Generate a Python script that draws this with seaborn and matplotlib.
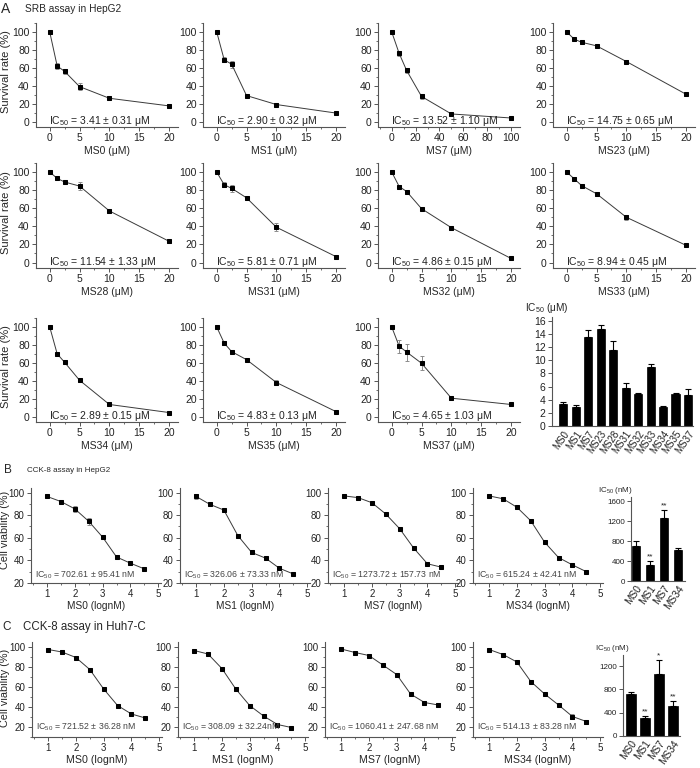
import matplotlib.pyplot as plt
from matplotlib.ticker import MultipleLocator
import seaborn as sns

# ---------------- A: SRB assay in HepG2 (survival rate, %) ----------------
conc_um = [0, 1.25, 2.5, 5, 10, 20]
conc_ms7_um = [0, 6.25, 12.5, 25, 50, 100]

ms0_srb = [100, 62, 56, 39, 26, 17.5]
ms0_srb_err = [0, 3, 3, 4, 1, 1]
ms1_srb = [100, 69, 64, 29, 19, 9.5]
ms1_srb_err = [0, 3, 4, 1, 1.5, 0.5]
ms7_srb = [100, 76, 57, 28, 8.5, 4]
ms7_srb_err = [0, 2.5, 2.5, 3, 1, 0.5]
ms23_srb = [100, 92, 88.5, 84.5, 67, 30.5]
ms23_srb_err = [0, 1, 1, 1, 1.5, 1]
ms28_srb = [100, 93, 89, 84.5, 57, 23.5]
ms28_srb_err = [0, 1, 1, 4.5, 2, 1.5]
ms31_srb = [100, 86, 82, 71.5, 39, 6.5]
ms31_srb_err = [0, 3, 3.5, 2.5, 4.5, 0.5]
ms32_srb = [100, 84, 78.5, 59.5, 38.5, 4.5]
ms32_srb_err = [0, 2, 1, 1, 1, 0.5]
ms33_srb = [100, 92.5, 85, 76, 50, 19]
ms33_srb_err = [0, 2.5, 1, 2.5, 2.5, 1]
ms34_srb = [100, 70, 60.5, 40.5, 13.5, 4.5]
ms34_srb_err = [0, 1, 2, 1.5, 1, 0.5]
ms35_srb = [100, 82, 72.5, 63.5, 38, 5.5]
ms35_srb_err = [0, 2, 1, 1, 2.5, 0.5]
ms37_srb = [100, 78.5, 72, 59.5, 20.5, 13.5]
ms37_srb_err = [0, 7.5, 9.5, 8, 1, 1]

srb_names = ["MS0", "MS1", "MS7", "MS23", "MS28", "MS31", "MS32", "MS33", "MS34", "MS35", "MS37"]
srb_ic50 = [3.41, 2.90, 13.52, 14.75, 11.54, 5.81, 4.86, 8.94, 2.89, 4.83, 4.65]
srb_ic50_err = [0.31, 0.32, 1.10, 0.65, 1.33, 0.71, 0.15, 0.45, 0.15, 0.13, 1.03]

# ---------------- B / C: CCK-8 assay (cell viability, %) ----------------
log_nm = [1, 1.5, 2, 2.5, 3, 3.5, 4, 4.5]
cck_names = ["MS0", "MS1", "MS7", "MS34"]

ms0_hepg2 = [96.5, 92, 85.5, 74.5, 60.5, 43, 37.5, 32.5]
ms0_hepg2_err = [0.5, 0.8, 2.5, 3, 0.8, 0.5, 0.5, 0.5]
ms1_hepg2 = [96.5, 89.5, 84.5, 62, 47, 42, 33, 28]
ms1_hepg2_err = [2, 0.8, 1, 1.5, 1.5, 0.8, 0.5, 0.8]
ms7_hepg2 = [97, 95.5, 91, 81, 68, 51, 37, 34]
ms7_hepg2_err = [0.5, 0.5, 0.5, 0.8, 0.8, 0.8, 0.5, 0.5]
ms34_hepg2 = [97, 94.5, 87, 75, 56, 42.5, 36, 30]
ms34_hepg2_err = [0.5, 0.5, 0.8, 0.8, 0.8, 0.8, 0.8, 0.5]
hepg2_ic50 = [702.61, 326.06, 1273.72, 615.24]
hepg2_ic50_err = [95.41, 73.33, 157.73, 42.41]
hepg2_stars = ["", "**", "**", ""]

ms0_huh7 = [97.5, 95, 89.5, 77.5, 58, 41.5, 33, 29]
ms0_huh7_err = [0.5, 0.5, 0.8, 0.8, 0.8, 0.8, 0.5, 0.5]
ms1_huh7 = [96.5, 93, 78.5, 58, 41.5, 31, 22.5, 19.5]
ms1_huh7_err = [0.5, 0.5, 0.8, 2, 0.8, 0.8, 0.8, 0.5]
ms7_huh7 = [98, 94.5, 91.5, 82, 72.5, 53, 44.5, 42]
ms7_huh7_err = [0.5, 0.5, 0.8, 0.8, 0.8, 0.8, 0.5, 0.5]
ms34_huh7 = [97.5, 92.5, 85, 65.5, 53, 42, 30.5, 25.5]
ms34_huh7_err = [0.5, 0.5, 0.8, 0.8, 0.8, 1, 2.5, 2]
huh7_ic50 = [721.52, 308.09, 1060.41, 514.13]
huh7_ic50_err = [36.28, 32.24, 247.68, 83.28]
huh7_units = [" nM", "nM", " nM", " nM"]
huh7_stars = ["", "**", "*", "**"]

sns.set_theme(style="ticks")
plt.rcParams["font.family"] = ["Liberation Sans", "DejaVu Sans"]
plt.rcParams["mathtext.default"] = "regular"

W, H = 700, 768
fig = plt.figure(figsize=(7, 7.68), dpi=100)


def add_ax(left, top, right, bottom):
    return fig.add_axes([left / W, 1 - bottom / H, (right - left) / W, (bottom - top) / H])


def fig_text(x, y, s, **kw):
    fig.text(x / W, 1 - y / H, s, **kw)


def style_axes(ax, labelsize):
    sns.despine(ax=ax)
    for side in ("left", "bottom"):
        ax.spines[side].set_linewidth(0.8)
        ax.spines[side].set_color("#555555")
    ax.tick_params(which="major", length=3, width=0.7, color="#555555",
                   labelsize=labelsize, labelcolor="#222222", pad=1.5)
    ax.tick_params(which="minor", length=1.6, width=0.6, color="#555555")


def draw_curve(ax, x, y, err):
    ax.errorbar(x, y, yerr=err, fmt="none", ecolor="#8c8c8c", elinewidth=0.7,
                capsize=1.6, capthick=0.7, zorder=2)
    sns.lineplot(x=x, y=y, ax=ax, color="#3a3a3a", linewidth=0.7, marker="s",
                 markersize=2.3, markerfacecolor="black", markeredgecolor="black", zorder=3)


def draw_bars(ax, names, vals, errs, width, stars=None, star_pad=0):
    sns.barplot(x=names, y=vals, ax=ax, color="black", saturation=1, width=width,
                errorbar=None, edgecolor="black", linewidth=0.5)
    n = len(vals)
    ax.errorbar(range(n), vals, yerr=[[0] * n, errs], fmt="none", ecolor="black",
                elinewidth=0.8, capsize=2, capthick=0.8)
    if stars:
        for i, s in enumerate(stars):
            if s:
                ax.text(i, vals[i] + errs[i] + star_pad, s, ha="center", va="bottom",
                        fontsize=6, color="#222222")
    ax.set_xlabel("")
    ax.set_ylabel("")


# ---------------- panel A ----------------
fig_text(6, 9, "A", fontsize=10, ha="center", va="center")
fig_text(25, 9, "SRB assay in HepG2", fontsize=7.3, ha="left", va="center")

a_cols = [36, 203, 378, 553]
a_rows = [(23, 126.5), (163, 267.5), (318, 421.5)]
a_curves = [
    (ms0_srb, ms0_srb_err), (ms1_srb, ms1_srb_err), (ms7_srb, ms7_srb_err), (ms23_srb, ms23_srb_err),
    (ms28_srb, ms28_srb_err), (ms31_srb, ms31_srb_err), (ms32_srb, ms32_srb_err), (ms33_srb, ms33_srb_err),
    (ms34_srb, ms34_srb_err), (ms35_srb, ms35_srb_err), (ms37_srb, ms37_srb_err),
]
for k, (y, err) in enumerate(a_curves):
    r, c = divmod(k, 4)
    top, bottom = a_rows[r]
    ax = add_ax(a_cols[c], top, a_cols[c] + 142, bottom)
    name = srb_names[k]
    if name == "MS7":
        x = conc_ms7_um
        ax.set_xlim(-11.5, 107.5)
        ax.xaxis.set_major_locator(MultipleLocator(20))
        ax.xaxis.set_minor_locator(MultipleLocator(10))
    else:
        x = conc_um
        ax.set_xlim(-2.3, 21.5)
        ax.xaxis.set_major_locator(MultipleLocator(5))
        ax.xaxis.set_minor_locator(MultipleLocator(2.5))
    draw_curve(ax, x, y, err)
    ax.set_ylim(-5.5, 110)
    ax.yaxis.set_major_locator(MultipleLocator(20))
    ax.yaxis.set_minor_locator(MultipleLocator(10))
    style_axes(ax, 7.5)
    ax.set_xlabel(f"{name} (μM)", fontsize=7.5, labelpad=2)
    ax.set_ylabel("")
    ax.text(0.09, 1, f"IC$_{{50}}$ = {srb_ic50[k]:.2f} ± {srb_ic50_err[k]:.2f} μM",
            transform=ax.get_yaxis_transform(), fontsize=7.5, ha="left", va="center",
            color="#222222")
    if c == 0:
        fig_text(6, (top + bottom) / 2 - 3, "Survival rate (%)", fontsize=8,
                 rotation=90, ha="center", va="center")

# summary bar chart of IC50 values
ax = add_ax(552, 317, 693, 426)
draw_bars(ax, srb_names, srb_ic50, srb_ic50_err, 0.65)
ax.set_xlim(-0.9, 10.4)
ax.set_ylim(0, 16.6)
ax.yaxis.set_major_locator(MultipleLocator(2))
style_axes(ax, 7.5)
ax.tick_params(axis="x", length=0, pad=2, labelsize=7)
for lab in ax.get_xticklabels():
    lab.set_rotation(55)
    lab.set_ha("right")
    lab.set_rotation_mode("anchor")
fig_text(547, 308, "IC$_{50}$ (μM)", fontsize=7.3, ha="center", va="center")

# ---------------- panels B and C ----------------
fig_text(8, 470, "B", fontsize=8.5, ha="center", va="center")
fig_text(27, 470, "CCK-8 assay in HepG2", fontsize=5.8, ha="left", va="center")
fig_text(7, 627, "C", fontsize=8.5, ha="center", va="center")
fig_text(23, 627, "CCK-8 assay in Huh7-C", fontsize=8.3, ha="left", va="center")

panels = [
    dict(cols=[31, 180, 328, 473], top=488, bottom=583, ylim=(20, 104), label_y=530,
         curves=[(ms0_hepg2, ms0_hepg2_err), (ms1_hepg2, ms1_hepg2_err),
                 (ms7_hepg2, ms7_hepg2_err), (ms34_hepg2, ms34_hepg2_err)],
         ic50=hepg2_ic50, ic50_err=hepg2_ic50_err, units=[" nM"] * 4, text_y=27,
         bar_box=(631, 497, 685, 581), bar_xlim=(-0.35, 3.5), bar_ylim=(0, 1690),
         bar_ticks=[0, 400, 800, 1200, 1600], bar_w=0.6, stars=hepg2_stars,
         bar_label=(615, 491), xfs=7.3),
    dict(cols=[32, 178, 325, 473], top=642, bottom=737, ylim=(10, 105), label_y=688,
         curves=[(ms0_huh7, ms0_huh7_err), (ms1_huh7, ms1_huh7_err),
                 (ms7_huh7, ms7_huh7_err), (ms34_huh7, ms34_huh7_err)],
         ic50=huh7_ic50, ic50_err=huh7_ic50_err, units=huh7_units, text_y=20,
         bar_box=(623, 655, 680, 736), bar_xlim=(-0.57, 3.5), bar_ylim=(0, 1390),
         bar_ticks=[0, 400, 800, 1200], bar_w=0.65, stars=huh7_stars,
         bar_label=(612, 648), xfs=7.7),
]

for p in panels:
    for c, (y, err) in enumerate(p["curves"]):
        left = p["cols"][c]
        ax = add_ax(left, p["top"], left + 130, p["bottom"])
        draw_curve(ax, log_nm, y, err)
        ax.set_xlim(0.42, 5.1)
        ax.set_ylim(*p["ylim"])
        ax.xaxis.set_major_locator(MultipleLocator(1))
        ax.xaxis.set_minor_locator(MultipleLocator(0.5))
        ax.yaxis.set_major_locator(MultipleLocator(20))
        ax.yaxis.set_minor_locator(MultipleLocator(10))
        style_axes(ax, 7)
        ax.set_xlabel(f"{cck_names[c]} (lognM)", fontsize=p["xfs"], labelpad=1.5)
        ax.set_ylabel("")
        ax.text(0.55, p["text_y"],
                f"IC$_{{50}}$ = {p['ic50'][c]:.2f} ± {p['ic50_err'][c]:.2f}{p['units'][c]}",
                fontsize=6.3, ha="left", va="center", color="#444444")
        if c == 0:
            fig_text(5.5, p["label_y"], "Cell viability (%)", fontsize=7.8,
                     rotation=90, ha="center", va="center")

    l, t, r, b = p["bar_box"]
    ax = add_ax(l, t, r, b)
    draw_bars(ax, cck_names, p["ic50"], p["ic50_err"], p["bar_w"], p["stars"],
              star_pad=p["bar_ylim"][1] * 0.01)
    ax.set_xlim(*p["bar_xlim"])
    ax.set_ylim(*p["bar_ylim"])
    ax.set_yticks(p["bar_ticks"])
    style_axes(ax, 5.8)
    ax.tick_params(axis="x", length=0, pad=2, labelsize=7.3)
    for lab in ax.get_xticklabels():
        lab.set_rotation(55)
        lab.set_ha("right")
        lab.set_rotation_mode("anchor")
    fig_text(p["bar_label"][0], p["bar_label"][1], "IC$_{50}$ (nM)", fontsize=5.8,
             ha="center", va="center")

fig.savefig("out.png", dpi=100)
